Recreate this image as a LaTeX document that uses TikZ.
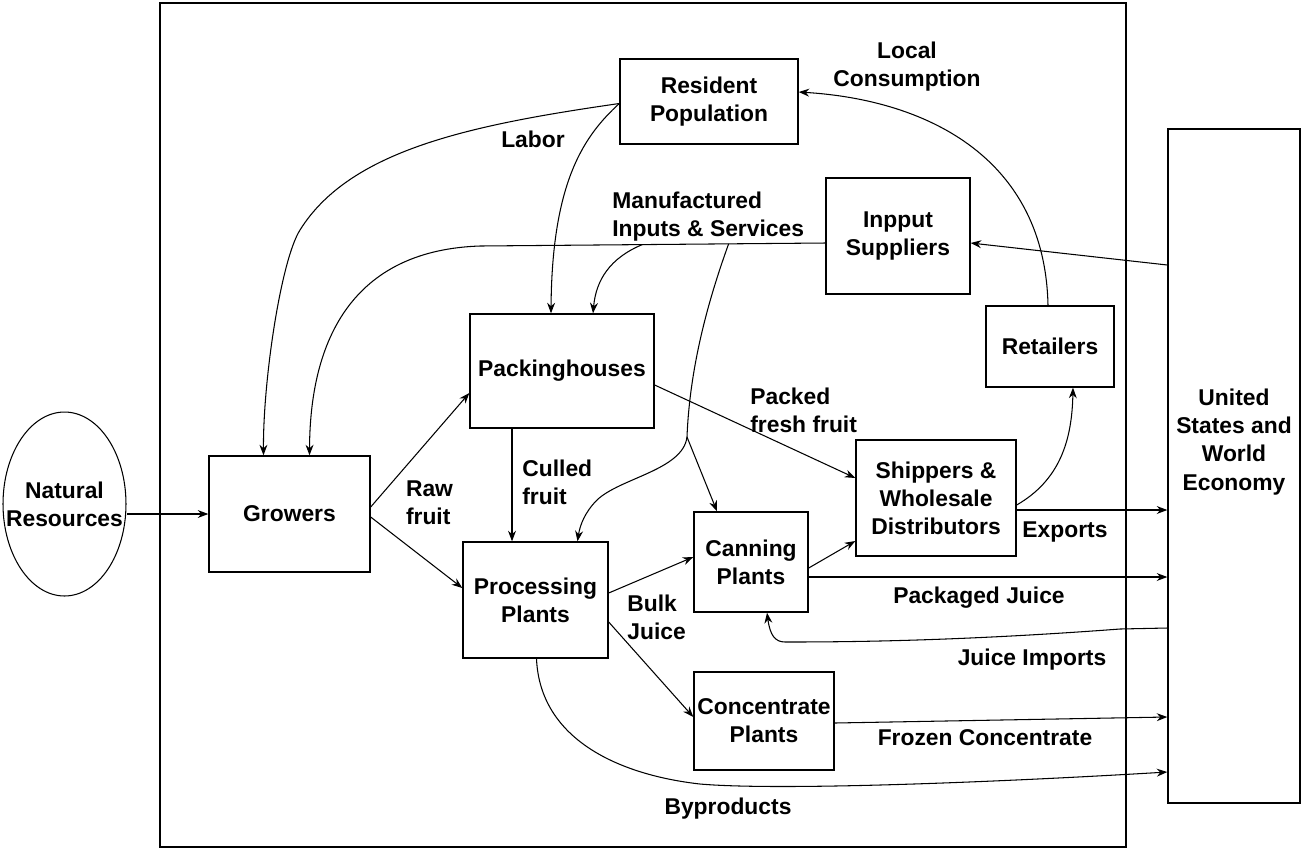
\documentclass[tikz,border=0pt]{standalone}
\usepackage{fontspec}
\setmainfont{Liberation Sans}
\usetikzlibrary{arrows.meta,positioning,calc,shapes.geometric}

\begin{document}
\begin{tikzpicture}[
  x=0.02cm, y=-0.02cm,
  font=\fontsize{13}{16}\selectfont\bfseries,
  box/.style={rectangle, draw, line width=0.8pt, align=center, inner sep=0pt},
  tag/.style={align=left, inner sep=0pt},
  flow/.style={->, >={Stealth[length=6pt,width=4.5pt]}, line width=0.6pt}
]
\useasboundingbox (0,0) rectangle (1302,850);

% Region boundary
\draw[line width=1pt] (160,3) rectangle (1126,847);

% Outside the region
\node[ellipse, draw, line width=0.6pt, minimum width=2.46cm, minimum height=3.68cm] (nat) at (64.5,504) {};
\node[align=center] (nattxt) at (nat) {Natural\\Resources};
\node[box, minimum width=2.64cm, minimum height=13.48cm] (world) at (1234,466) {};
\node[align=center] (worldtxt) at (1234,442) {United\\States and\\World\\Economy};

% Boxes
\node[box, minimum width=3.56cm, minimum height=1.70cm] (res) at (709,101.5) {Resident\\Population};
\node[box, minimum width=2.88cm, minimum height=2.32cm] (supp) at (898,236) {Inpput\\Suppliers};
\node[box, minimum width=2.56cm, minimum height=1.62cm] (retail) at (1050,346.5) {Retailers};
\node[box, minimum width=3.68cm, minimum height=2.28cm] (pack) at (562,371) {Packinghouses};
\node[box, minimum width=3.22cm, minimum height=2.32cm] (grow) at (289.5,514) {Growers};
\node[box, minimum width=2.90cm, minimum height=2.32cm] (proc) at (535.5,600) {Processing\\Plants};
\node[box, minimum width=2.28cm, minimum height=2.00cm] (can) at (751,562) {Canning\\Plants};
\node[box, minimum width=3.20cm, minimum height=2.32cm] (ship) at (936,498) {Shippers \&\\Wholesale\\Distributors};
\node[box, minimum width=2.80cm, minimum height=1.96cm] (conc) at (764,721) {Concentrate\\Plants};

% Arrows
\draw[flow] (nat.east |- grow.west) -- (grow.west);
\draw[flow] ($(grow.east)+(0,-7)$) -- ($(pack.west)+(0,22)$);
\draw[flow] ($(grow.east)+(0,3)$) -- ($(proc.west)+(0,-12)$);

% labor
\draw[flow] ($(res.west)+(0,2)$) .. controls (470,125) and (350,150) .. (300,230)
  .. controls (281,260) and (263,380) .. ($(grow.north)+(-26,0)$);
\draw[flow] ($(res.west)+(0,2)$) .. controls (585,135) and (552,180) .. ($(pack.north)+(-11,0)$);

% inputs
\draw[flow] ($(supp.west)+(0,7)$) -- coordinate[pos=0.28] (mfgB) coordinate[pos=0.53] (mfgA) (480,246)
  .. controls (360,250) and (310,330) .. ($(grow.north)+(20,0)$);
\draw[flow] (mfgA) .. controls (610,258) and (596,280) .. ($(pack.north)+(31,0)$);
\coordinate (split) at (687,437);
\draw[line width=0.6pt] (mfgB) .. controls (712,290) and (690,360) .. (split);
\draw[flow] (split) .. controls (683,470) and (620,478) .. (597,500)
  .. controls (585,512) and (580,525) .. ($(proc.north)+(42,0)$);
\draw[flow] (split) -- ($(can.north)+(-34,0)$);

% fruit and juice
\draw[flow] ($(pack.south)+(-50,0)$) -- ($(proc.north)+(-23.5,0)$);
\draw[flow] ($(pack.east)+(0,14)$) -- ($(ship.west)+(0,-20)$);
\draw[flow] ($(proc.east)+(0,-7)$) -- ($(can.west)+(0,-5)$);
\draw[flow] ($(proc.east)+(0,22)$) -- ($(conc.west)+(0,-4)$);
\draw[flow] ($(can.east)+(0,6)$) -- ($(ship.west)+(0,43)$);
\draw[flow] ($(ship.east)+(0,7)$) .. controls (1060,480) and (1072,440) .. ($(retail.south)+(23,0)$);
\draw[flow] ($(retail.north)+(-2,0)$) .. controls (1045,160) and (930,100) .. ($(res.east)+(0,-9.5)$);

% to and from the outside economy
\coordinate (exp) at ($(ship.east)+(0,12)$);
\draw[flow] (exp) -- (exp -| world.west);
\coordinate (pkj) at ($(can.east)+(0,15)$);
\draw[flow] (pkj) -- (pkj -| world.west);
\draw[flow] ($(world.west)+(0,162)$) -- (1120,629) .. controls (960,641) and (850,642) .. (785,642)
  .. controls (775,642) and (770,635) .. ($(can.south)+(16,0)$);
\draw[flow] ($(conc.east)+(0,2)$) -- ($(world.west)+(0,251)$);
\draw[flow] ($(proc.south)+(1,0)$) .. controls (540,740) and (620,775) .. (700,784)
  .. controls (780,791) and (1000,782) .. ($(world.west)+(0,306)$);
\draw[flow] ($(world.west)+(0,-201)$) -- ($(supp.east)+(0,7)$);

% Labels
\node[tag] (labortxt) at (533,139) {Labor};
\node[tag, anchor=west] (mfgtxt) at (612,217) {Manufactured\\Inputs \& Services};
\node[align=center, inner sep=0pt] (loctxt) at (907,67) {Local\\Consumption};
\node[tag, right=0.7cm of grow, yshift=0.22cm] (rawtxt) {Raw\\fruit};
\node[tag, anchor=west] (culltxt) at (522,482) {Culled\\fruit};
\node[tag, anchor=west] (packtxt) at (750,410) {Packed\\fresh fruit};
\node[tag, anchor=west] (bulktxt) at (627,617) {Bulk\\Juice};
\node[tag] (exptxt) at (1065,532) {Exports};
\node[tag] (pkjtxt) at (979,598) {Packaged Juice};
\node[tag] (jimptxt) at (1032,660) {Juice Imports};
\node[tag] (frztxt) at (985,738) {Frozen Concentrate};
\node[tag] (byptxt) at (728,809) {Byproducts};

\end{tikzpicture}
\end{document}
